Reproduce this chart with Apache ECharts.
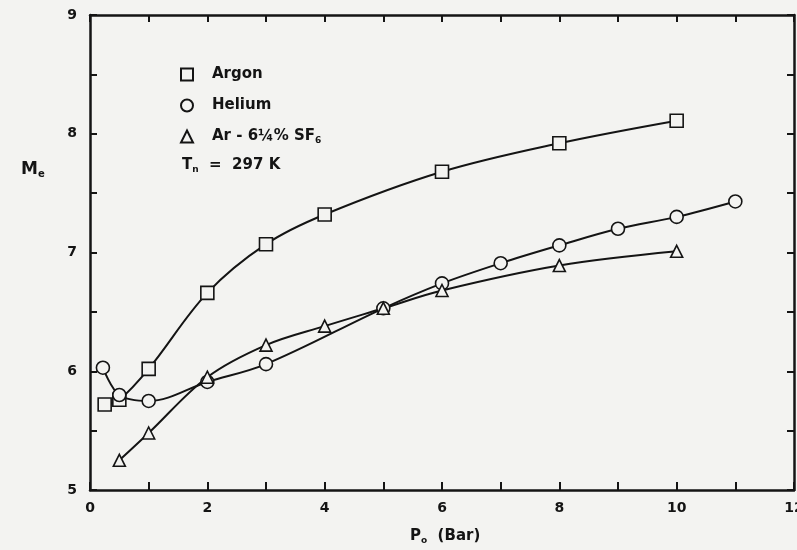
<!DOCTYPE html>
<html>
<head>
<meta charset="utf-8">
<script src="https://cdn.jsdelivr.net/npm/echarts@6/dist/echarts.min.js"></script>
<style>
	html, body { margin: 0; padding: 0; background: #f3f3f1; }
	#chart { width: 797px; height: 550px; }
</style>
</head>
<body>
<div id="chart"></div>
<script>
	// values
	var argonX = [0.25, 0.5, 1, 2, 3, 4, 6, 8, 10];
	var argonY = [5.72, 5.76, 6.02, 6.66, 7.07, 7.32, 7.68, 7.92, 8.11];
	var heliumX = [0.22, 0.5, 1, 2, 3, 5, 6, 7, 8, 9, 10, 11];
	var heliumY = [6.03, 5.80, 5.75, 5.91, 6.06, 6.53, 6.74, 6.91, 7.06, 7.20, 7.30, 7.43];
	var mixX = [0.5, 1, 2, 3, 4, 5, 6, 8, 10];
	var mixY = [5.25, 5.48, 5.95, 6.22, 6.38, 6.53, 6.68, 6.89, 7.01];
	var seriesNames = ['Argon', 'Helium', 'Ar - 6¼% SF6'];

	var ink = '#141414';
	var bg = '#f3f3f1';
	var font = 'DejaVu Sans';

	function pairs(xs, ys) {
		var out = [];
		for (var i = 0; i < xs.length; i++) {
			out.push([xs[i], ys[i]]);
		}
		return out;
	}

	function makeSeries(name, data, symbol, size) {
		return {
			name: name,
			type: 'line',
			xAxisIndex: 0,
			yAxisIndex: 0,
			data: data,
			smooth: 0.35,
			symbol: symbol,
			symbolSize: size,
			showAllSymbol: true,
			lineStyle: { color: ink, width: 2 },
			itemStyle: { color: bg, borderColor: ink, borderWidth: 1.6 },
			z: 3
		};
	}

	var chart = echarts.init(document.getElementById('chart'));

	var option = {
		backgroundColor: bg,
		animation: false,
		grid: { left: 90, right: 3, top: 15, bottom: 60, outerBoundsMode: 'none', containLabel: false },
		legend: {
			orient: 'vertical',
			left: 175,
			top: 62,
			itemWidth: 12,
			itemHeight: 12,
			itemGap: 16,
			textStyle: {
				fontFamily: font, fontWeight: 'bold', fontSize: 15, color: ink,
				padding: [0, 0, 0, 14],
				rich: {
					s: { fontFamily: font, fontWeight: 'bold', fontSize: 9, color: ink, padding: [9, 0, 0, 0] }
				}
			},
			formatter: function (n) {
				if (n === seriesNames[2]) return 'Ar - 6¼% SF{s|6}';
				return n;
			},
			data: [
				{ name: seriesNames[0], icon: 'rect' },
				{ name: seriesNames[1], icon: 'circle' },
				{ name: seriesNames[2], icon: 'triangle' }
			]
		},
		xAxis: [{
			type: 'value',
			min: 0,
			max: 12,
			interval: 1,
			position: 'bottom',
			axisLine: { onZero: false, lineStyle: { color: ink, width: 2.5 } },
			axisTick: { inside: true, length: 8, lineStyle: { color: ink, width: 2 } },
			splitLine: { show: false },
			axisLabel: {
				margin: 11,
				fontFamily: font, fontWeight: 'bold', fontSize: 14, color: ink,
				formatter: function (v) { return v % 2 === 0 ? v : ''; }
			}
		}, {
			type: 'value',
			min: 0,
			max: 12,
			interval: 1,
			position: 'top',
			axisLine: { onZero: false, lineStyle: { color: ink, width: 2.5 } },
			axisTick: { inside: true, length: 7, lineStyle: { color: ink, width: 2 } },
			splitLine: { show: false },
			axisLabel: { show: false }
		}],
		yAxis: [{
			type: 'value',
			min: 5,
			max: 9,
			interval: 0.5,
			position: 'left',
			axisLine: { show: true, onZero: false, lineStyle: { color: ink, width: 2.5 } },
			axisTick: { show: true, inside: true, length: 7, lineStyle: { color: ink, width: 2 } },
			splitLine: { show: false },
			axisLabel: {
				margin: 13,
				fontFamily: font, fontWeight: 'bold', fontSize: 14, color: ink,
				formatter: function (v) { return v % 1 === 0 ? v : ''; }
			}
		}, {
			type: 'value',
			min: 5,
			max: 9,
			interval: 0.5,
			position: 'right',
			axisLine: { show: true, onZero: false, lineStyle: { color: ink, width: 2.5 } },
			axisTick: { show: true, inside: true, length: 7, lineStyle: { color: ink, width: 2 } },
			splitLine: { show: false },
			axisLabel: { show: false }
		}],
		graphic: [{
			type: 'text',
			left: 21,
			top: 161,
			style: {
				text: 'M{s|e}',
				fontFamily: font, fontWeight: 'bold', fontSize: 17, fill: ink,
				rich: { s: { fontFamily: font, fontWeight: 'bold', fontSize: 10, fill: ink, padding: [9, 0, 0, 0] } }
			}
		}, {
			type: 'text',
			left: 410,
			top: 529,
			style: {
				text: 'P{s|o}  (Bar)',
				fontFamily: font, fontWeight: 'bold', fontSize: 15, fill: ink,
				rich: { s: { fontFamily: font, fontWeight: 'bold', fontSize: 9, fill: ink, padding: [9, 0, 0, 0] } }
			}
		}, {
			type: 'text',
			left: 182,
			top: 158,
			style: {
				text: 'T{s|n}  =  297 K',
				fontFamily: font, fontWeight: 'bold', fontSize: 15, fill: ink,
				rich: { s: { fontFamily: font, fontWeight: 'bold', fontSize: 9, fill: ink, padding: [9, 0, 0, 0] } }
			}
		}],
		series: [
			makeSeries(seriesNames[0], pairs(argonX, argonY), 'rect', 13),
			makeSeries(seriesNames[1], pairs(heliumX, heliumY), 'circle', 13),
			makeSeries(seriesNames[2], pairs(mixX, mixY), 'triangle', 12)
		]
	};

	chart.setOption(option);
</script>
</body>
</html>
